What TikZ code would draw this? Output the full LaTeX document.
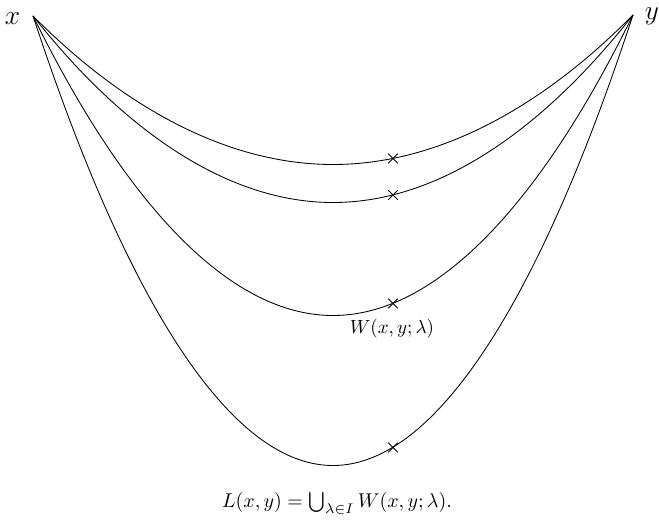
\documentclass[tikz,border=0pt]{standalone}
\usetikzlibrary{shapes.misc}
\begin{document}
\begin{tikzpicture}[x=0.526pt,y=-0.526pt,
  curve/.style={draw=black,line width=0.45pt},
  xmark/.style={cross out,draw=black,line width=0.45pt,inner sep=0pt,minimum size=4.6pt},
  endlabel/.style={font=\Large,anchor=base,inner sep=0pt},
  lbl/.style={inner sep=0pt}]
\useasboundingbox (0,0) rectangle (659,523);
% endpoints
\coordinate (A) at (33,16);
\coordinate (B) at (633,15);
% bends
\coordinate (b1) at (333,164.5);
\coordinate (b2) at (333,202.5);
\coordinate (b3) at (333,315.5);
\coordinate (b4) at (333,465.5);
% curves
\draw[curve] (A) parabola bend (b1) (B);
\draw[curve] (A) parabola bend (b2) (B);
\draw[curve] (A) parabola bend (b3) (B);
\draw[curve] (A) parabola bend (b4) (B);
% crosses
\node[xmark] (m1) at (393,158.5) {};
\node[xmark] (m2) at (393,195) {};
\node[xmark] (m3) at (393,303.5) {};
\node[xmark] (m4) at (393,447.5) {};
% labels
\node[endlabel] (lx) at (12.5,25) {$x$};
\node[endlabel] (ly) at (652,20) {$y$};
\node[lbl] (lw) at (392,329) {$W(x,y;\lambda)$};
\node[lbl,scale=1.05] (ll) at (337,504) {$L(x,y)=\bigcup_{\lambda\in I}W(x,y;\lambda).$};
\end{tikzpicture}
\end{document}
